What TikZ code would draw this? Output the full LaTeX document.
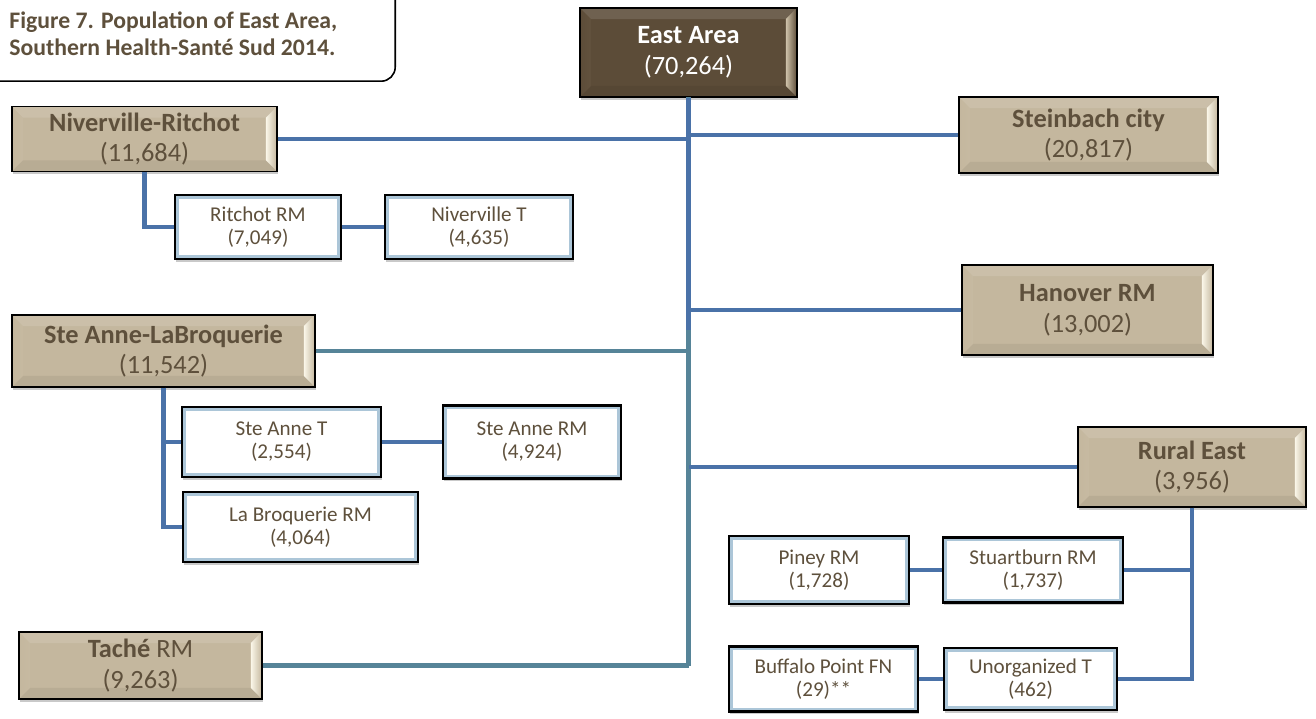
\documentclass[tikz,border=0pt]{standalone}
\usepackage{fontspec}
\setmainfont{Carlito}
\usetikzlibrary{shadows}

\definecolor{boxtan}{RGB}{196,183,158}
\definecolor{boxdark}{RGB}{92,76,56}
\definecolor{bevellight}{RGB}{250,246,232}
\definecolor{beveldark}{RGB}{205,192,168}
\definecolor{txtbrown}{RGB}{94,80,60}
\definecolor{linkblue}{RGB}{74,114,168}
\definecolor{linkteal}{RGB}{86,132,152}
\definecolor{innerblue}{RGB}{172,198,216}

\tikzset{
  bevel/.style 2 args={path picture={
    \shade[left color=#1, right color=#2]
      (path picture bounding box.north west) -- ([shift={(11,11)}]path picture bounding box.north west)
      -- ([shift={(11,-11)}]path picture bounding box.south west) -- (path picture bounding box.south west) -- cycle;
    \shade[left color=#2, right color=#1]
      (path picture bounding box.north east) -- ([shift={(-11,11)}]path picture bounding box.north east)
      -- ([shift={(-11,-11)}]path picture bounding box.south east) -- (path picture bounding box.south east) -- cycle;
    \fill[white, opacity=0.12]
      (path picture bounding box.north west) -- ([shift={(11,11)}]path picture bounding box.north west)
      -- ([shift={(-11,11)}]path picture bounding box.north east) -- (path picture bounding box.north east) -- cycle;
    \fill[black, opacity=0.06]
      (path picture bounding box.south west) -- ([shift={(11,-11)}]path picture bounding box.south west)
      -- ([shift={(-11,-11)}]path picture bounding box.south east) -- (path picture bounding box.south east) -- cycle;
  }},
  softshadow/.style={drop shadow={shadow xshift=0.5pt, shadow yshift=-1.6pt, opacity=0.3, fill=black!70}},
  topbox/.style={draw=black, line width=0.8pt, fill=boxdark, text=white, align=center,
    font=\fontsize{15}{17.5}\selectfont, softshadow, bevel={boxdark}{beveldark}},
  areabox/.style={draw=black, line width=0.8pt, fill=boxtan, text=txtbrown, align=center,
    font=\fontsize{15}{17.5}\selectfont, softshadow, bevel={boxtan}{bevellight}},
  leafbox/.style={draw=black, line width=1.6pt, fill=white, text=txtbrown, align=center,
    font=\fontsize{12}{13.2}\selectfont, softshadow,
    path picture={\draw[innerblue, line width=1.2pt]
      ([shift={(1.4pt,-1.4pt)}]path picture bounding box.north west) rectangle
      ([shift={(-1.4pt,1.4pt)}]path picture bounding box.south east);}},
  titlebox/.style={draw=black, line width=0.9pt, fill=white, rounded corners=8pt, text=txtbrown,
    align=left, font=\fontsize{13.5}{15.6}\selectfont\bfseries},
  blueline/.style={draw=linkblue, line width=2.8pt},
  tealline/.style={draw=linkteal, line width=2.8pt}
}

\begin{document}
\begin{tikzpicture}[x=0.02cm, y=-0.02cm]
\useasboundingbox (0,0) rectangle (1316,719);
\clip (0,0) rectangle (1316,719);

\node[titlebox, anchor=south east, minimum height=1.91cm, inner xsep=1.16cm] (caption) at (396,82) {Figure 7. Population of East Area,\\Southern Health-Santé Sud 2014.};

% head of the area
\node[topbox, minimum width=4.34cm, minimum height=1.78cm] (east) at (688.5,52.5) {\textbf{East Area}\\(70,264)};

% connectors
\draw[tealline] (688.5,665.5) -- (688.5,97);
\draw[blueline] (east.south) -- (688.5,330);

% districts
\node[areabox, minimum width=5.30cm, minimum height=1.24cm] (nivrit) at (144.5,139) {\textbf{Niverville-Ritchot}\\(11,684)};
\node[areabox, minimum width=5.18cm, minimum height=1.52cm] (steinbach) at (1088.5,135) {\textbf{Steinbach city}\\(20,817)};
\node[areabox, minimum width=5.02cm, minimum height=1.80cm] (hanover) at (1087.5,310) {\textbf{Hanover RM}\\(13,002)};
\node[areabox, minimum width=6.06cm, minimum height=1.44cm] (stelab) at (163.5,351) {\textbf{Ste Anne-LaBroquerie}\\(11,542)};
\node[areabox, minimum width=4.56cm, minimum height=1.60cm] (rural) at (1192,467) {\textbf{Rural East}\\(3,956)};
\node[areabox, minimum width=4.86cm, minimum height=1.34cm] (tache) at (140.5,665.5) {\textbf{Taché} RM\\(9,263)};

% municipalities
\node[leafbox, minimum width=3.32cm, minimum height=1.28cm] (ritchot) at (258,227) {Ritchot RM\\(7,049)};
\node[leafbox, minimum width=3.76cm, minimum height=1.28cm] (nivt) at (479,227) {Niverville T\\(4,635)};
\node[leafbox, minimum width=3.98cm, minimum height=1.40cm] (steannet) at (281.5,442) {Ste Anne T\\(2,554)};
\node[leafbox, minimum width=3.56cm, minimum height=1.46cm] (steannerm) at (532,442) {Ste Anne RM\\(4,924)};
\node[leafbox, minimum width=4.70cm, minimum height=1.40cm] (labroq) at (300.5,527) {La Broquerie RM\\(4,064)};
\node[leafbox, minimum width=3.60cm, minimum height=1.36cm] (piney) at (819,570) {Piney RM\\(1,728)};
\node[leafbox, minimum width=3.60cm, minimum height=1.30cm] (stuart) at (1033,570) {Stuartburn RM\\(1,737)};
\node[leafbox, minimum width=3.78cm, minimum height=1.30cm] (buffalo) at (823.5,679) {Buffalo Point FN\\(29)**};
\node[leafbox, minimum width=3.46cm, minimum height=1.24cm] (unorg) at (1030.5,679) {Unorganized T\\(462)};

\draw[blueline] (nivrit.east) -- (nivrit.east -| east.south);
\draw[blueline] (steinbach.west) -- (steinbach.west -| east.south);
\draw[blueline] (hanover.west) -- (hanover.west -| east.south);
\draw[tealline] (stelab.east) -- (stelab.east -| east.south);
\draw[blueline] (rural.west) -- (rural.west -| east.south);
\draw[tealline] (tache.east) -- (tache.east -| east.south);

\draw[blueline] (nivrit.south) |- (ritchot.west);
\draw[blueline] (ritchot) -- (nivt);
\draw[blueline] (stelab.south) |- (steannet.west);
\draw[blueline] (stelab.south) |- (labroq.west);
\draw[blueline] (steannet) -- (steannerm);
\draw[blueline] (rural.south) |- (stuart.east);
\draw[blueline] (rural.south) |- (unorg.east);
\draw[blueline] (piney) -- (stuart);
\draw[blueline] (buffalo) -- (unorg);
\end{tikzpicture}
\end{document}
